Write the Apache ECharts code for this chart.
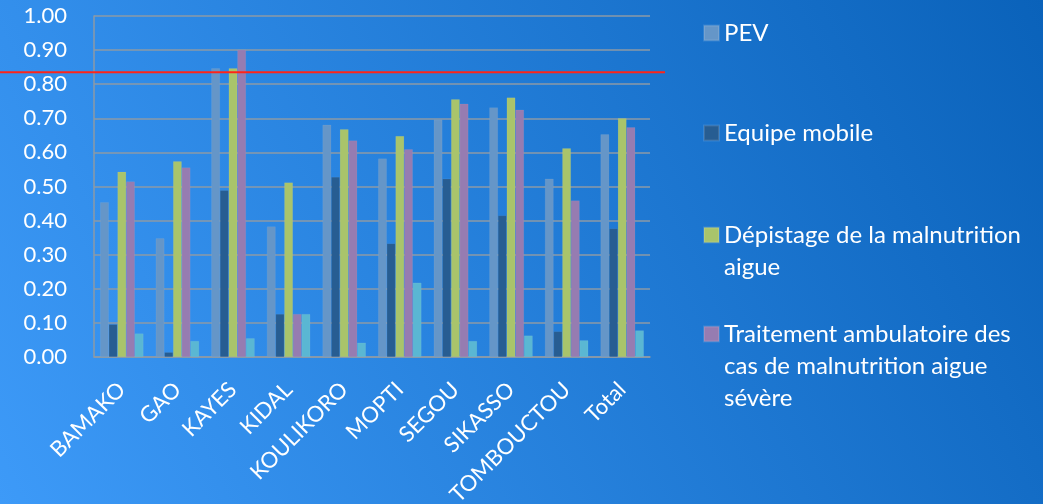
<!DOCTYPE html>
<html><head><meta charset="utf-8">
<script src="https://cdn.jsdelivr.net/npm/echarts@6/dist/echarts.min.js"></script>
<style>html,body{margin:0;padding:0;}#c{width:1043px;height:504px;}</style>
</head><body><div id="c"></div>
<script>
const categories = ['BAMAKO','GAO','KAYES','KIDAL','KOULIKORO','MOPTI','SEGOU','SIKASSO','TOMBOUCTOU','Total'];
const pev        = [0.454,0.348,0.847,0.383,0.681,0.582,0.696,0.732,0.523,0.653];
const equipe     = [0.096,0.014,0.489,0.126,0.528,0.333,0.523,0.415,0.075,0.377];
const depistage  = [0.543,0.574,0.847,0.512,0.668,0.648,0.756,0.761,0.612,0.700];
const traitement = [0.515,0.556,0.901,0.126,0.635,0.609,0.743,0.725,0.459,0.674];
const autre      = [0.069,0.047,0.055,0.126,0.042,0.218,0.047,0.063,0.049,0.078];
const seuil = 0.835;
const names = ['PEV','Equipe mobile','Dépistage de la malnutrition aigue','Traitement ambulatoire des cas de malnutrition aigue sévère','Autre'];
const legendLines = {
  'PEV': ['PEV'],
  'Equipe mobile': ['Equipe mobile'],
  'Dépistage de la malnutrition aigue': ['Dépistage de la malnutrition','aigue'],
  'Traitement ambulatoire des cas de malnutrition aigue sévère': ['Traitement ambulatoire des','cas de malnutrition aigue','sévère']
};
const yTicks = ['0.00','0.10','0.20','0.30','0.40','0.50','0.60','0.70','0.80','0.90','1.00'];

const colors = ['#6596c8','#275d92','#a9c46b','#967cb1','#5ab7d3'];
const chart = echarts.init(document.getElementById('c'));
const font = 'Lato';
const LH = 32;
function bar(name, data, i){
  return {name, type:'bar', data, barGap:'0%', barCategoryGap:'22%',
    itemStyle:{color:colors[i], borderColor:'rgba(255,255,255,0.12)', borderWidth:0.5}};
}
function leg(name, centerY){
  const lines = legendLines[name];
  const n = lines.length;
  const text = new Array(n-1).fill('').concat(lines).join('\n');
  const total = 2*n-1;
  return {data:[name], left:698, top:centerY - 5 - total*LH/2, orient:'vertical',
    itemWidth:15, itemHeight:15, icon:'rect', selectedMode:false, itemGap:0,
    formatter: () => text,
    textStyle:{color:'#ffffff', fontFamily:font, fontSize:24, lineHeight:LH}};
}
chart.setOption({
  backgroundColor: new echarts.graphic.LinearGradient(0,1,1,0,[{offset:0,color:'#3d9af8'},{offset:1,color:'#0a62ba'}]),
  animation:false,
  grid:{left:94, right:393, top:16, bottom:147, containLabel:false, outerBoundsMode:'none'},
  legend:[leg(names[0],33), leg(names[1],133), leg(names[2],235), leg(names[3],334)],
  xAxis:{type:'category', data:categories,
    axisLine:{show:true, lineStyle:{color:'#8d9aa6', width:1.5}},
    axisTick:{show:false},
    axisLabel:{color:'#ffffff', fontFamily:font, fontSize:22, rotate:45, interval:0, margin:29}},
  yAxis:{type:'value', min:0, max:1, interval:0.1,
    axisLine:{show:true, lineStyle:{color:'#8d9aa6', width:1.5}},
    axisTick:{show:false},
    splitLine:{lineStyle:{color:'#8d9aa6', width:1.5}},
    axisLabel:{color:'#ffffff', fontFamily:font, fontSize:22, margin:27,
      formatter:(v)=>yTicks[Math.round(v*10)]}},
  series:[bar(names[0],pev,0), bar(names[1],equipe,1), bar(names[2],depistage,2), bar(names[3],traitement,3), bar(names[4],autre,4)]
});
const yPx = chart.convertToPixel({yAxisIndex:0}, seuil);
chart.setOption({graphic:[{type:'line', shape:{x1:0, y1:yPx, x2:665, y2:yPx}, style:{stroke:'#ff2418', lineWidth:2}, z:100}]});
</script></body></html>
